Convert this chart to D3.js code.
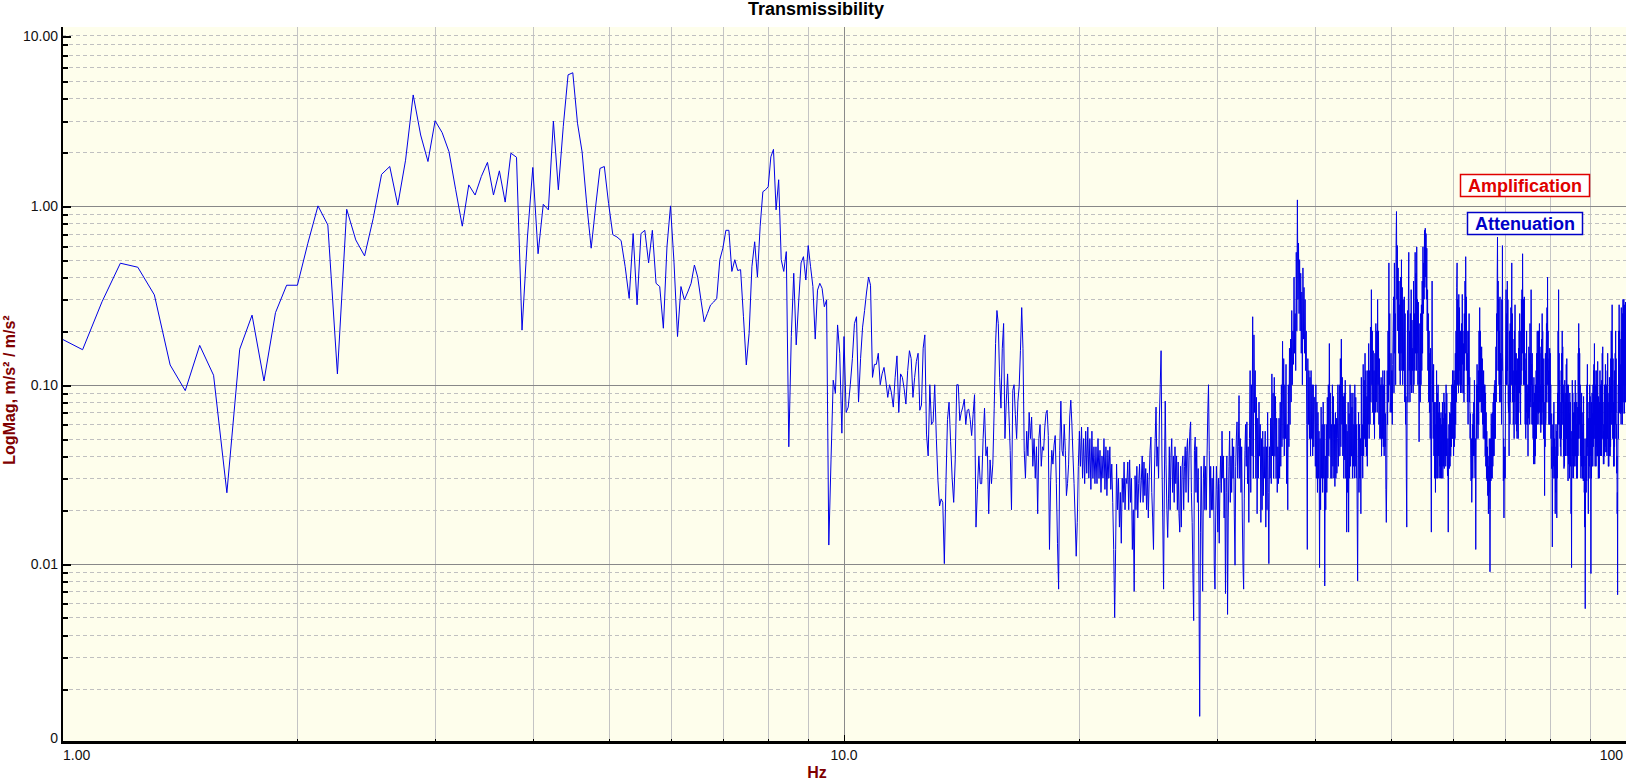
<!DOCTYPE html>
<html><head><meta charset="utf-8">
<script src="https://cdn.jsdelivr.net/npm/d3@7"></script>
<style>
html,body{margin:0;padding:0;background:#fff;}
svg{display:block;font-family:"Liberation Sans",Arial,sans-serif;}
</style></head><body>
<svg id="c" width="1630" height="783"></svg>
<script>
const title = "Transmissibility";
const xLabel = "Hz";
const yLabel = "LogMag, m/s\u00B2 / m/s\u00B2";
const legendItems = ["Amplification", "Attenuation"];
const xTickValues = [1, 10, 100];
const xTickLabels = ["1.00", "10.0", "100"];
const yTickValues = [10, 1, 0.1, 0.01, 0.001];
const yTickLabels = ["10.00", "1.00", "0.10", "0.01", "0"];
const startHz = 1.0;
const binHz = 0.0625;

// magnitudes, one row per 1 Hz (16 bins)
const mag1to10 = [
.18,.157,.291,.478,.454,.318,.129,.0927,.166,.113,.0249,.158,.245,.105,.253,.36,
.36,.618,1,.782,.115,.957,.645,.525,.85,1.5,1.66,1.01,1.8,4.17,2.49,1.77,
2.99,2.57,2.01,1.23,.77,1.31,1.15,1.46,1.75,1.15,1.57,1.05,1.97,1.87,.202,.67,
1.64,.54,1.02,.95,2.98,1.23,2.77,5.4,5.55,2.9,2,1.03,.58,.99,1.62,1.66,
1.03,.69,.67,.64,.457,.304,.7,.28,.7,.73,.48,.73,.369,.354,.207,.59,
1,.48,.186,.354,.298,.33,.369,.467,.4,.298,.225,.25,.279,.29,.304,.5,
.58,.73,.73,.43,.5,.435,.44,.24,.129,.194,.457,.63,.4,.77,1.2,1.23,
1.28,1.88,2.07,.95,1.4,.5,.43,.555,.045,.186,.42,.167,.29,.48,.52,.385,
.6,.457,.354,.18,.338,.369,.346,.273,.298,.0127,.038,.106,.0896,.216,.15,.0536
];
const mag10to33 = [
.186,.07,.075,.1,.14,.22,.24,.08,.14,.21,.26,.33,.4,.36,.11,.13,
.13,.15,.1,.115,.125,.105,.085,.1,.09,.075,.11,.145,.07,.115,.11,.095,
.078,.12,.155,.14,.085,.11,.135,.15,.072,.077,.16,.19,.053,.04,.1,.06,
.062,.1,.05,.029,.021,.023,.022,.01,.028,.064,.08,.048,.03,.022,.038,.1,
.1,.063,.07,.075,.083,.06,.072,.073,.064,.052,.068,.088,.016,.026,.04,.028,
.028,.05,.074,.04,.045,.019,.038,.028,.036,.074,.17,.26,.22,.11,.074,.16,
.22,.05,.08,.115,.07,.043,.02,.093,.1,.068,.05,.081,.098,.155,.27,.16,
.043,.03,.055,.04,.07,.05,.066,.035,.05,.03,.045,.019,.05,.06,.035,.045,
.043,.058,.069,.072,.052,.012,.029,.043,.036,.046,.052,.028,.013,.0072,.043,.081,
.043,.04,.06,.043,.024,.028,.036,.066,.082,.06,.04,.028,.018,.011,.017,.035,
.055,.035,.058,.03,.05,.028,.055,.032,.058,.03,.05,.026,.055,.03,.045,.028,
.045,.028,.05,.03,.043,.025,.04,.03,.05,.026,.045,.024,.043,.03,.045,.026,
.036,.022,.012,.005,.012,.036,.02,.03,.016,.025,.013,.03,.022,.037,.02,.03,
.028,.037,.02,.038,.022,.03,.012,.02,.007,.031,.02,.035,.018,.028,.036,.022,
.029,.04,.022,.037,.024,.034,.02,.032,.018,.03,.043,.051,.025,.018,.012,.03,
.05,.075,.035,.045,.03,.066,.1,.155,.04,.018,.0072,.03,.081,.036,.02,.014,
.023,.045,.02,.04,.05,.025,.04,.022,.045,.028,.04,.02,.037,.019,.015,.035,
.016,.035,.04,.02,.035,.045,.025,.043,.05,.022,.04,.055,.062,.025,.017,.0088,
.0048,.043,.051,.025,.045,.022,.034,.008,.0014,.015,.035,.018,.007,.03,.04,.02,
.035,.02,.04,.07,.1,.043,.018,.035,.02,.03,.02,.035,.0098,.0072,.018,.035,
.026,.015,.03,.013,.028,.04,.025,.055,.03,.04,.018,.03,.0068,.025,.04,.0052,
.018,.035,.055,.022,.04,.025,.05,.03,.045,.018,.0098,.035,.051,.062,.03,.045,
.087,.03,.05,.025,.045,.018,.0098,.0072,.023,.043,.06,.035,.062,.028,.045,.017
];
const mag33to100 = [
.05,.12,.025,.1,.04,.24,.03,.19,.07,.12,.03,.085,.019,.065,.03,.08,
.04,.06,.017,.05,.02,.055,.024,.045,.03,.055,.016,.045,.02,.07,.025,.01,
.045,.03,.065,.028,.115,.04,.09,.03,.11,.04,.086,.03,.065,.025,.045,.028,
.065,.03,.08,.035,.1,.045,.175,.05,.14,.04,.1,.05,.13,.028,.06,.02,
.1,.045,.16,.06,.18,.08,.26,.1,.2,.13,.4,.15,.25,.12,.55,.2,
1.08,.3,.62,.25,.5,.2,.42,.15,.33,.1,.45,.18,.35,.15,.3,.12,
.2,.06,.012,.14,.06,.12,.05,.11,.04,.12,.05,.1,.04,.1,.045,.085,
.085,.035,.1,.03,.08,.025,.07,.03,.055,.0095,.05,.02,.075,.03,.06,.025,
.08,.03,.06,.0075,.04,.02,.06,.025,.085,.03,.1,.04,.17,.05,.09,.03,
.06,.03,.1,.035,.086,.03,.06,.027,.07,.03,.065,.032,.05,.1,.035,.07,
.1,.04,.14,.045,.18,.06,.11,.04,.086,.03,.09,.038,.106,.03,.06,.015,
.055,.025,.08,.015,.069,.03,.1,.035,.09,.04,.075,.03,.09,.035,.06,.03,
.1,.035,.085,.03,.06,.02,.008,.03,.07,.025,.06,.03,.05,.019,.11,.04,
.06,.03,.13,.04,.106,.05,.15,.045,.12,.04,.086,.035,.12,.06,.17,.05,
.12,.06,.21,.08,.34,.1,.2,.07,.155,.06,.12,.05,.15,.07,.22,.08,
.2,.07,.3,.1,.2,.06,.14,.05,.1,.05,.11,.04,.1,.05,.12,.045,
.1,.04,.12,.045,.069,.026,.017,.03,.12,.06,.2,.08,.48,.1,.25,.07,
.08,.15,.07,.12,.06,.13,.2,.31,.09,.48,.15,.25,.1,.6,.93,.3,
.6,.2,.45,.15,.38,.12,.28,.1,.4,.15,.5,.12,.35,.1,.3,.12,
.2,.31,.08,.25,.06,.086,.03,.016,.1,.26,.08,.3,.55,.12,.2,.08,
.25,.1,.34,.09,.23,.12,.16,.09,.38,.1,.25,.12,.55,.15,.42,.12,
.59,.15,.3,.1,.29,.12,.048,.1,.22,.08,.25,.1,.28,.12,.38,.15,
.59,.25,.48,.3,.73,.35,.75,.4,.7,.3,.58,.2,.34,.12,.25,.08,
.2,.07,.15,.05,.16,.04,.015,.1,.38,.08,.12,.05,.13,.04,.08,.03,
.06,.025,.08,.03,.12,.04,.09,.03,.1,.04,.07,.03,.08,.035,.065,.03,
.07,.03,.06,.035,.08,.03,.065,.035,.09,.034,.08,.04,.069,.035,.1,.04,
.09,.04,.031,.05,.015,.04,.06,.034,.07,.035,.069,.04,.08,.045,.1,.05,
.12,.05,.1,.04,.12,.045,.106,.05,.15,.06,.2,.08,.35,.48,.1,.3,
.2,.09,.32,.12,.27,.1,.2,.09,.2,.1,.22,.09,.32,.13,.2,.09,
.17,.08,.25,.12,.38,.15,.52,.2,.31,.12,.2,.08,.15,.06,.2,.1,
.25,.08,.11,.05,.069,.04,.029,.05,.022,.035,.06,.03,.069,.04,.08,.04,
.106,.04,.03,.05,.012,.04,.1,.05,.13,.06,.1,.05,.12,.06,.2,.08,
.27,.1,.2,.08,.15,.07,.163,.075,.14,.06,.106,.05,.12,.06,.1,.05,
.1,.04,.09,.035,.07,.03,.055,.029,.045,.024,.04,.019,.035,.025,.05,.02,
.009,.02,.05,.029,.069,.03,.06,.03,.07,.035,.08,.04,.09,.04,.1,.05,
.106,.05,.1,.163,.08,.25,.12,.4,.67,.2,.38,.12,.3,.1,.2,.08,
.31,.1,.15,.08,.14,.06,.3,.12,.6,.15,.1,.029,.05,.018,.04,.03,
.045,.03,.1,.2,.34,.1,.25,.1,.38,.12,.3,.08,.07,.1,.04,.2,
.12,.06,.22,.08,.27,.1,.2,.48,.1,.25,.08,.18,.06,.069,.12,.05,
.2,.08,.28,.1,.15,.06,.15,.055,.12,.05,.14,.06,.12,.05,.16,.07,
.2,.09,.25,.1,.12,.06,.2,.1,.3,.12,.34,.15,.54,.2,.3,.1,
.3,.12,.31,.1,.14,.06,.12,.05,.15,.07,.2,.06,.1,.06,.09,.04,
.1,.065,.163,.07,.15,.06,.22,.08,.15,.075,.34,.1,.13,.06,.15,.06,
.1,.05,.08,.036,.11,.045,.09,.036,.065,.04,.1,.05,.12,.05,.15,.06,
.2,.07,.15,.06,.2,.069,.2,.08,.22,.07,.163,.06,.1,.054,.15,.06,
.18,.07,.25,.08,.2,.06,.1,.05,.14,.05,.06,.024,.08,.045,.15,.06,
.066,.15,.22,.08,.27,.1,.4,.12,.2,.08,.12,.06,.14,.06,.16,.07,
.15,.06,.1,.05,.069,.034,.045,.03,.0124,.03,.06,.03,.069,.035,.08,.04,
.05,.03,.045,.019,.04,.025,.06,.03,.055,.018,.05,.03,.09,.04,.2,.06,
.34,.1,.15,.06,.106,.05,.08,.045,.06,.04,.12,.05,.15,.06,.2,.08,
.163,.06,.1,.04,.09,.034,.06,.035,.106,.045,.08,.04,.09,.04,.13,.05,
.14,.05,.1,.04,.055,.029,.1,.036,.08,.036,.069,.03,.09,.04,.08,.035,
.05,.019,.03,.0095,.055,.03,.106,.04,.09,.035,.07,.03,.069,.035,.08,.04,
.07,.035,.106,.04,.09,.04,.06,.03,.08,.035,.05,.03,.075,.04,.15,.05,
.22,.08,.16,.06,.15,.05,.1,.04,.07,.03,.075,.035,.09,.04,.07,.03,
.054,.03,.06,.029,.086,.035,.05,.025,.03,.016,.04,.0056,.02,.035,.05,.025,
.05,.029,.1,.04,.13,.045,.08,.03,.019,.035,.065,.03,.08,.035,.1,.04,
.086,.04,.065,.0088,.045,.03,.08,.035,.09,.04,.069,.035,.1,.045,.12,.05,
.13,.05,.17,.06,.12,.035,.1,.04,.08,.035,.12,.045,.1,.04,.09,.04,
.135,.05,.07,.03,.086,.035,.06,.03,.08,.04,.12,.05,.1,.04,.086,.04,
.1,.04,.106,.05,.15,.06,.163,.05,.06,.036,.055,.036,.08,.04,.1,.045,
.09,.042,.13,.05,.1,.045,.06,.042,.1,.04,.12,.05,.15,.05,.08,.035,
.05,.035,.09,.04,.11,.045,.09,.04,.1,.045,.14,.06,.2,.07,.15,.06,
.28,.08,.12,.05,.14,.05,.08,.035,.06,.035,.106,.045,.12,.05,.15,.06,
.2,.07,.14,.05,.06,.032,.04,.019,.025,.0067,.04,.069,.1,.05,.2,.07,
.28,.1,.2,.07,.18,.069,.1,.069,.13,.06,.27,.08,.2,.07,.12,.06,
.25,.1,.3,.08,.28,.1,.3,.069,.2,.07,.28,.1,.25,.08,.29,.1,
.28
];

const W = 1630, H = 783;
const L = 62, R = 1626, T = 27, B = 742.5;

const mags = mag1to10.concat(mag10to33, mag33to100);
const data = mags.map((v, i) => ({ f: startHz + i * binHz, v: v }));

const x = d3.scaleLog().domain([1, 100]).range([L, R]);
const y = d3.scaleLog().domain([0.001, 10]).range([B, T]);

const svg = d3.select("#c");
svg.append("rect").attr("width", W).attr("height", H).attr("fill", "#fff");
svg.append("rect").attr("x", L).attr("y", T).attr("width", R - L).attr("height", B - T).attr("fill", "#fefeec");

const px = v => Math.round(v) + 0.5;
const decadesY = [0.001, 0.01, 0.1, 1];
const yMinor = [];
decadesY.forEach(d => { for (let k = 2; k <= 9; k++) yMinor.push(+(k * d).toPrecision(3)); });
const yMajor = [0.01, 0.1, 1];
const xMinor = [];
[1, 10].forEach(d => { for (let k = 2; k <= 9; k++) xMinor.push(k * d); });

const grid = svg.append("g").attr("shape-rendering", "crispEdges");
grid.selectAll("line.xm").data(xMinor).join("line")
  .attr("x1", d => px(x(d))).attr("x2", d => px(x(d))).attr("y1", T).attr("y2", B)
  .attr("stroke", "#c4c4c4").attr("stroke-width", 1);
grid.append("line").attr("x1", px(x(10))).attr("x2", px(x(10))).attr("y1", T).attr("y2", B)
  .attr("stroke", "#8a8a8a");
grid.selectAll("line.ym").data(yMinor).join("line")
  .attr("x1", L).attr("x2", R).attr("y1", d => px(y(d))).attr("y2", d => px(y(d)))
  .attr("stroke", "#c0c0c0").attr("stroke-dasharray", "4,3");
grid.selectAll("line.yM").data(yMajor).join("line")
  .attr("x1", L).attr("x2", R).attr("y1", d => px(y(d))).attr("y2", d => px(y(d)))
  .attr("stroke", "#888");

svg.append("clipPath").attr("id", "clip").append("rect")
  .attr("x", L).attr("y", T).attr("width", R - L).attr("height", B - T);

const line = d3.line().x(d => x(d.f)).y(d => y(d.v));
svg.append("path").datum(data.filter(d => d.f <= 100))
  .attr("clip-path", "url(#clip)")
  .attr("d", line).attr("fill", "none").attr("stroke", "#0000e6").attr("stroke-width", 1);

// axes lines
const ax = svg.append("g").attr("shape-rendering", "crispEdges");
ax.append("line").attr("x1", 62).attr("x2", 62).attr("y1", T).attr("y2", B + 1).attr("stroke", "#000").attr("stroke-width", 2.5);
ax.append("line").attr("x1", 61).attr("x2", R).attr("y1", 742.5).attr("y2", 742.5).attr("stroke", "#000").attr("stroke-width", 2.5);

// y ticks
const clampY = v => Math.min(Math.max(y(v), T + 9), B - 4.5);
ax.selectAll("line.ytm").data(yMinor.filter(d => d < 9)).join("line")
  .attr("x1", 62).attr("x2", 68).attr("y1", d => px(y(d))).attr("y2", d => px(y(d)))
  .attr("stroke", "#000").attr("stroke-width", 2);
ax.selectAll("line.ytM").data(yTickValues.slice(0, 4)).join("line")
  .attr("x1", 62).attr("x2", 71).attr("y1", d => px(clampY(d))).attr("y2", d => px(clampY(d)))
  .attr("stroke", "#000").attr("stroke-width", 2);
// x ticks
ax.selectAll("line.xtm").data(xMinor).join("line")
  .attr("x1", d => px(x(d))).attr("x2", d => px(x(d))).attr("y1", B - 4).attr("y2", B)
  .attr("stroke", "#000").attr("stroke-width", 1.5);
ax.append("line").attr("x1", px(x(10))).attr("x2", px(x(10))).attr("y1", B - 8).attr("y2", B)
  .attr("stroke", "#000").attr("stroke-width", 1.5);

// tick labels
svg.append("g").selectAll("text").data(yTickValues).join("text")
  .attr("x", 58).attr("y", d => clampY(d)).attr("dy", "0.36em")
  .attr("text-anchor", "end").attr("font-size", 14).attr("fill", "#111")
  .text((d, i) => yTickLabels[i]);
svg.append("g").selectAll("text").data(xTickValues).join("text")
  .attr("x", (d, i) => i === 0 ? x(d) + 1 : (i === xTickValues.length - 1 ? x(d) - 3 : x(d)))
  .attr("y", 760)
  .attr("text-anchor", (d, i) => i === 0 ? "start" : (i === xTickValues.length - 1 ? "end" : "middle"))
  .attr("font-size", 14).attr("fill", "#111")
  .text((d, i) => xTickLabels[i]);

// titles
svg.append("text").attr("x", 816).attr("y", 15).attr("text-anchor", "middle")
  .attr("font-size", 18).attr("font-weight", "bold").attr("fill", "#000").text(title);
svg.append("text").attr("x", 817).attr("y", 778).attr("text-anchor", "middle")
  .attr("font-size", 16).attr("font-weight", "bold").attr("fill", "#800000").text(xLabel);
svg.append("text").attr("transform", "translate(15,390) rotate(-90)").attr("text-anchor", "middle")
  .attr("font-size", 16).attr("font-weight", "bold").attr("fill", "#800000").text(yLabel);

// legend boxes
const legColors = ["#e00000", "#0000c8"];
const legBoxes = [{ x: 1460, y: 174, w: 129, h: 22 }, { x: 1467, y: 212, w: 115, h: 22 }];
const lg = svg.append("g");
legendItems.forEach((t, i) => {
  const b = legBoxes[i];
  lg.append("rect").attr("x", b.x + 0.5).attr("y", b.y + 0.5).attr("width", b.w).attr("height", b.h)
    .attr("fill", "#fff").attr("stroke", legColors[i]).attr("stroke-width", 1.5);
  lg.append("text").attr("x", b.x + b.w / 2 + 0.5).attr("y", b.y + 18).attr("text-anchor", "middle")
    .attr("font-size", 18).attr("font-weight", "bold").attr("fill", legColors[i]).text(t);
});
</script>
</body></html>
